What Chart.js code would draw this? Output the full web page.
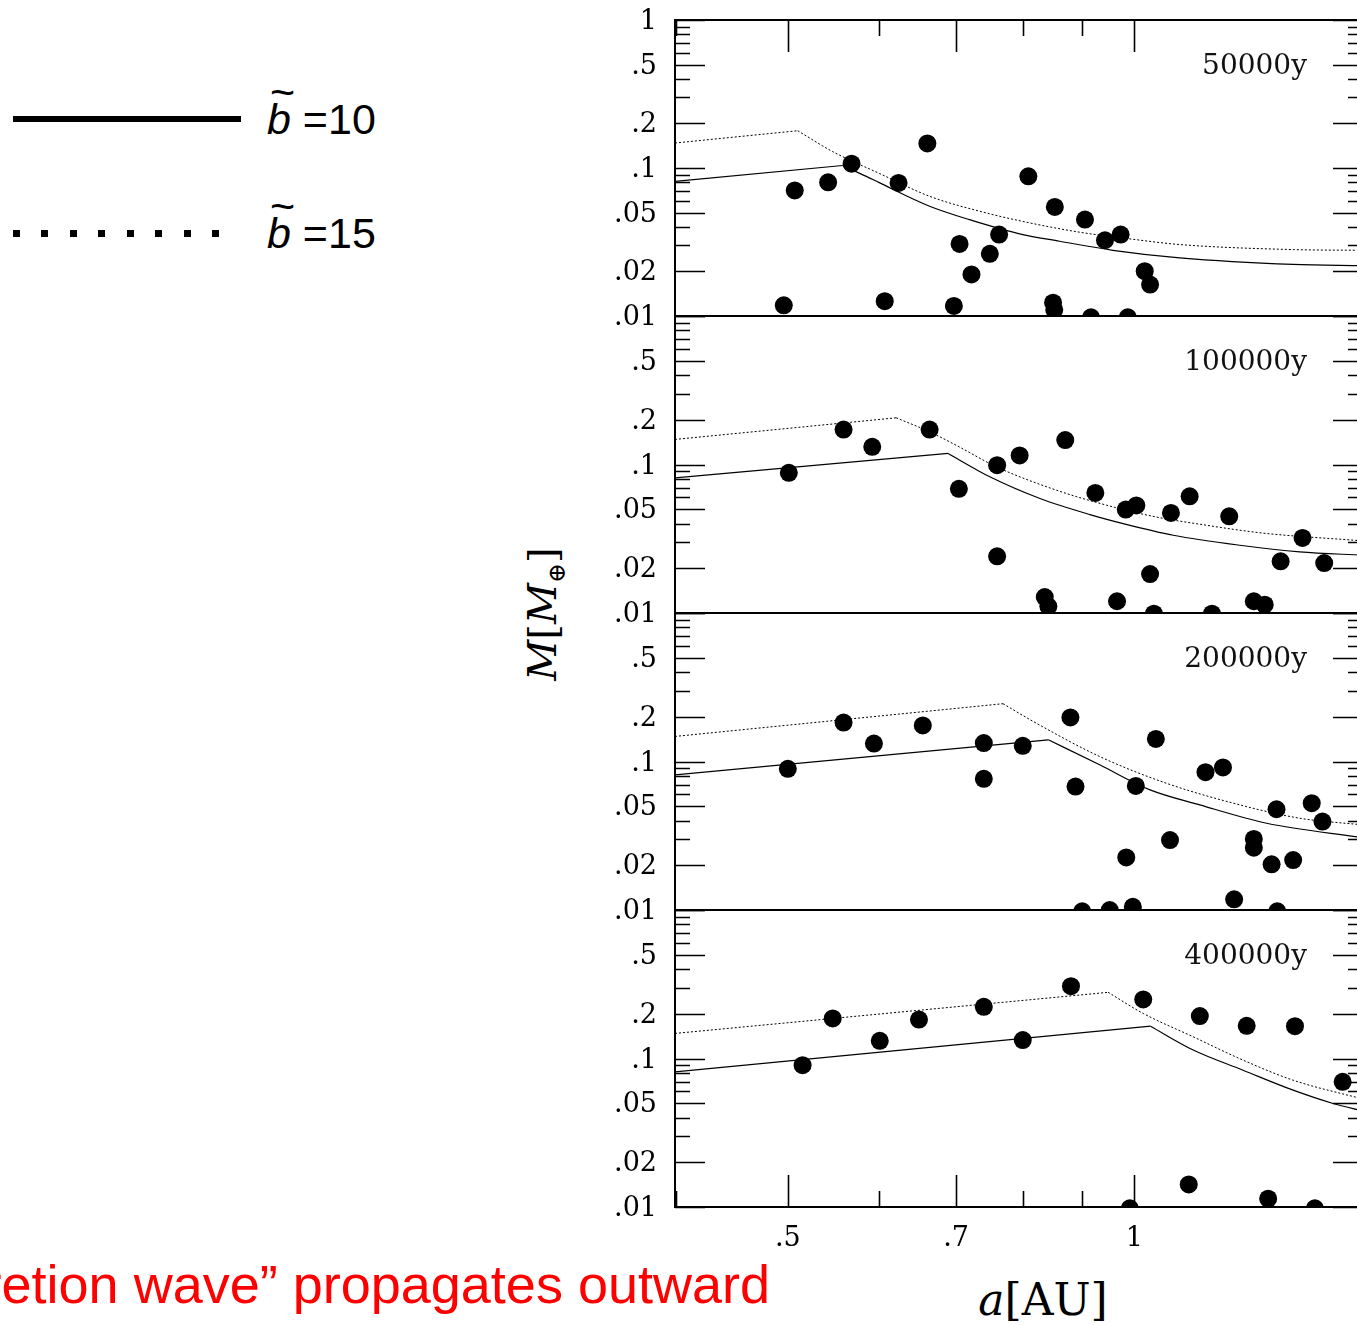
<!DOCTYPE html>
<html>
<head>
<meta charset="utf-8">
<script src="https://cdn.jsdelivr.net/npm/chart.js@4.4.1/dist/chart.umd.min.js"></script>
<style>
    html, body { margin: 0; padding: 0; background: #fff; overflow: hidden; }
    #page { position: relative; width: 1357px; height: 1325px; overflow: hidden; background: #fff; }
    #page canvas { position: absolute; }
    .txt { position: absolute; white-space: nowrap; line-height: 1; color: #000; }
    .sans { font-family: "Liberation Sans", Arial, sans-serif; }
    .serif { font-family: "DejaVu Serif", serif; }
    .bt { position: relative; display: inline-block; }
    .bt .tl { position: absolute; left: 3px; top: -27px; font-style: normal; }
</style>
</head>
<body>
<div id="page">
    <!-- legend -->
    <div style="position:absolute;left:13px;top:116px;width:228px;height:6px;background:#000"></div>
    <div style="position:absolute;left:13px;top:229.5px;width:207px;height:7px;
        background:repeating-linear-gradient(90deg,#000 0 7px,transparent 7px 28.5px)"></div>
    <div class="txt sans" style="left:267px;top:98px;font-size:43px"><span class="bt"><i>b</i><span class="tl">~</span></span> =10</div>
    <div class="txt sans" style="left:267px;top:212px;font-size:43px"><span class="bt"><i>b</i><span class="tl">~</span></span> =15</div>

    <div class="txt sans" style="right:587px;top:1257px;font-size:54px;color:#ff0000">“accretion wave” propagates outward</div>

    <div class="txt serif" style="left:545px;top:614px;font-size:40px;transform:translate(-50%,-50%) rotate(-90deg)"><i>M</i>[<i>M</i><sub style="font-size:0.6em">⊕</sub>]</div>
    <div class="txt serif" style="left:1043px;top:1300px;font-size:44px;transform:translate(-50%,-50%)"><i>a</i>[AU]</div>
</div>
<script>
// ---- axes ----
const X_TICKS = [0.4, 0.5, 0.6, 0.7, 0.8, 0.9, 1];
const X_TICK_LABELS = ['', '.5', '', '.7', '', '', '1'];
const X_MAJOR = [0.5, 0.7, 1];
const Y_TICKS = [0.01, 0.02, 0.03, 0.04, 0.05, 0.06, 0.07, 0.08, 0.09,
                 0.1, 0.2, 0.3, 0.4, 0.5, 0.6, 0.7, 0.8, 0.9, 1];
const Y_TICK_LABELS = ['.01', '.02', '', '', '.05', '', '', '', '',
                       '.1', '.2', '', '', '.5', '', '', '', '', '1'];
const Y_MAJOR = [0.01, 0.02, 0.05, 0.1, 0.2, 0.5, 1];
const PANEL_LABELS = ['50000y', '100000y', '200000y', '400000y'];

// ---- data: [a (AU), M (M_earth)] ----
// curves: first point -> peak is the rising power law, the rest the falling branch
const DOTS_50K = [[0.496,0.0118],[0.507,0.0706],[0.542,0.080],[0.568,0.107],[0.607,0.0126],[0.624,0.0793],
    [0.661,0.1466],[0.697,0.0117],[0.705,0.0307],[0.722,0.0191],[0.749,0.0263],[0.763,0.0355],[0.809,0.0878],
    [0.850,0.0123],[0.852,0.0110],[0.853,0.0546],[0.906,0.0448],[0.917,0.0098],[0.943,0.0325],[0.973,0.0355],
    [0.987,0.0098],[1.021,0.0201],[1.032,0.0163]];
const B10_50K = [[0.399,0.0813],[0.558,0.104],[0.585,0.0878],[0.601,0.0793],[0.664,0.0552],[0.719,0.0448],
    [0.80,0.0355],[0.861,0.032],[0.958,0.0278],[1.095,0.0247],[1.374,0.0223],[1.58,0.0219]];
const B15_50K = [[0.399,0.1475],[0.510,0.1786],[0.547,0.129],[0.601,0.0916],[0.664,0.0644],[0.734,0.051],
    [0.811,0.0426],[0.897,0.0368],[0.991,0.0332],[1.095,0.0304],[1.374,0.0281],[1.58,0.0278]];

const DOTS_100K = [[0.501,0.0879],[0.559,0.172],[0.592,0.1315],[0.664,0.172],[0.704,0.0686],[0.760,0.099],
    [0.760,0.0241],[0.795,0.115],[0.836,0.0128],[0.842,0.0111],[0.871,0.146],[0.925,0.0644],[0.966,0.012],
    [0.983,0.0497],[1.004,0.053],[1.032,0.0183],[1.040,0.0099],[1.076,0.0472],[1.117,0.0611],[1.168,0.0099],
    [1.209,0.0448],[1.270,0.012],[1.298,0.01138],[1.340,0.0223],[1.400,0.032],[1.462,0.0217]];
const B10_100K = [[0.399,0.0813],[0.689,0.1187],[0.749,0.0826],[0.828,0.059],[0.915,0.046],[0.978,0.040],
    [1.081,0.0334],[1.235,0.0286],[1.392,0.0258],[1.58,0.0245]];
const B15_100K = [[0.399,0.1475],[0.621,0.2063],[0.664,0.166],[0.705,0.131],[0.759,0.0964],[0.856,0.0671],
    [0.946,0.0532],[1.045,0.0443],[1.155,0.039],[1.235,0.0361],[1.303,0.0343],[1.58,0.0306]];

const DOTS_200K = [[0.500,0.0893],[0.559,0.183],[0.594,0.132],[0.655,0.175],[0.740,0.133],[0.740,0.0764],
    [0.800,0.1275],[0.880,0.198],[0.889,0.0678],[0.901,0.0098],[0.952,0.0100],[0.984,0.0226],[0.997,0.0105],
    [1.003,0.0685],[1.044,0.142],[1.074,0.0296],[1.153,0.0848],[1.194,0.0912],[1.221,0.0118],[1.270,0.0301],
    [1.270,0.0263],[1.316,0.0203],[1.329,0.0477],[1.331,0.0098],[1.374,0.0217],[1.426,0.0524],[1.457,0.0394]];
const B10_200K = [[0.399,0.0813],[0.842,0.140],[0.933,0.095],[1.032,0.0644],[1.14,0.051],[1.303,0.0384],
    [1.58,0.0307]];
const B15_200K = [[0.399,0.1475],[0.769,0.245],[0.817,0.186],[0.933,0.108],[1.066,0.0714],[1.219,0.0524],
    [1.392,0.0415],[1.58,0.0374]];

const DOTS_400K = [[0.515,0.0902],[0.547,0.186],[0.601,0.1315],[0.650,0.183],[0.740,0.223],[0.800,0.133],
    [0.881,0.307],[0.991,0.0098],[1.018,0.250],[1.115,0.0142],[1.140,0.193],[1.252,0.166],[1.307,0.01138],
    [1.379,0.165],[1.435,0.0098],[1.517,0.0696]];
const B10_400K = [[0.399,0.0813],[1.033,0.165],[1.125,0.114],[1.243,0.0834],[1.374,0.0612],[1.488,0.0498],
    [1.58,0.0443]];
const B15_400K = [[0.399,0.1475],[0.949,0.279],[1.018,0.201],[1.125,0.140],[1.243,0.0975],[1.374,0.0714],
    [1.58,0.0533]];

const PANELS = [
    [DOTS_50K, B10_50K, B15_50K],
    [DOTS_100K, B10_100K, B15_100K],
    [DOTS_200K, B10_200K, B15_200K],
    [DOTS_400K, B10_400K, B15_400K]
];

// panel geometry on the page
const PANEL_TOP = [20, 316, 613, 910];
const PANEL_H = [296, 297, 297, 297];
const CANVAS_LEFT = 600, CANVAS_W = 780, AXIS_W = 75, PAD = 25, XAXIS_H = 75;

const toXY = pts => pts.map(([a, m]) => ({ x: a, y: m }));

// a curve = straight rising part + smooth falling part
const curveSets = (pts, style) => [
    Object.assign({ data: toXY(pts.slice(0, 2)) }, style),
    Object.assign({ data: toXY(pts.slice(1)), cubicInterpolationMode: 'monotone' }, style)
];

// inward ticks, frame and time label
const framePlugin = {
    id: 'frame',
    afterDraw(chart, args, opts) {
        const { ctx, chartArea: a, scales: { x, y } } = chart;
        ctx.save();
        ctx.strokeStyle = '#000';
        ctx.lineWidth = 1.6;
        ctx.beginPath();
        Y_TICKS.forEach(v => {
            const py = Math.round(y.getPixelForValue(v)) + 0.5;
            const len = Y_MAJOR.includes(v) ? 30 : 15;
            ctx.moveTo(a.left, py); ctx.lineTo(a.left + len, py);
            ctx.moveTo(a.right, py); ctx.lineTo(a.right - len, py);
        });
        X_TICKS.forEach(v => {
            const px = Math.round(x.getPixelForValue(v)) + 0.5;
            const len = X_MAJOR.includes(v) ? 32 : 16;
            if (opts.top) { ctx.moveTo(px, a.top); ctx.lineTo(px, a.top + len); }
            if (opts.bottom) { ctx.moveTo(px, a.bottom); ctx.lineTo(px, a.bottom - len); }
        });
        ctx.stroke();
        ctx.lineWidth = 2;
        ctx.strokeRect(a.left, a.top, a.right - a.left, a.bottom - a.top);

        ctx.fillStyle = '#111';
        ctx.font = '28px "DejaVu Serif"';
        ctx.textAlign = 'right';
        ctx.textBaseline = 'alphabetic';
        ctx.fillText(opts.label, a.right - 56, a.top + 54);
        ctx.restore();
    }
};

const page = document.getElementById('page');

PANELS.forEach(([dots, b10, b15], i) => {
    const isBottom = i === PANELS.length - 1;
    const h = PAD + PANEL_H[i] + (isBottom ? XAXIS_H : PAD);
    const cv = document.createElement('canvas');
    cv.width = CANVAS_W; cv.height = h;
    cv.style.left = CANVAS_LEFT + 'px';
    cv.style.top = (PANEL_TOP[i] - PAD) + 'px';
    cv.style.width = CANVAS_W + 'px'; cv.style.height = h + 'px';
    page.appendChild(cv);

    const solid = { showLine: true, borderColor: '#000', borderWidth: 1.2, pointRadius: 0 };
    const dotted = { showLine: true, borderColor: '#000', borderWidth: 1, borderDash: [2, 2], pointRadius: 0 };

    new Chart(cv, {
        type: 'scatter',
        data: {
            datasets: [
                {
                    data: toXY(dots),
                    pointRadius: 9, pointHoverRadius: 9,
                    pointBackgroundColor: '#000', pointBorderWidth: 0
                },
                ...curveSets(b10, solid),
                ...curveSets(b15, dotted)
            ]
        },
        options: {
            responsive: false,
            devicePixelRatio: 1,
            animation: false,
            events: [],
            layout: { padding: { left: 0, right: CANVAS_W - (1363 - CANVAS_LEFT), top: PAD, bottom: isBottom ? 0 : PAD } },
            plugins: {
                legend: { display: false },
                tooltip: { enabled: false },
                frame: { label: PANEL_LABELS[i], top: i === 0, bottom: isBottom }
            },
            scales: {
                x: {
                    type: 'logarithmic', min: 0.399, max: 1.58,
                    display: isBottom,
                    grid: { display: false, drawTicks: false },
                    border: { display: false },
                    afterBuildTicks: s => { s.ticks = X_TICKS.map(v => ({ value: v })); },
                    afterFit: s => {
                        s.height = isBottom ? XAXIS_H : 0;
                        s.paddingLeft = 0; s.paddingRight = 0;
                    },
                    ticks: {
                        autoSkip: false, maxRotation: 0, padding: 16, color: '#000',
                        font: { family: '"DejaVu Serif"', size: 27 },
                        callback: (v, idx) => X_TICK_LABELS[idx]
                    }
                },
                y: {
                    type: 'logarithmic', min: 0.01, max: 1,
                    grid: { display: false, drawTicks: false },
                    border: { display: false },
                    afterBuildTicks: s => { s.ticks = Y_TICKS.map(v => ({ value: v })); },
                    afterFit: s => {
                        s.width = AXIS_W;
                        s.paddingTop = 0; s.paddingBottom = 0;
                    },
                    ticks: {
                        autoSkip: false, padding: 18, labelOffset: 2, color: '#000',
                        font: { family: '"DejaVu Serif"', size: 27 },
                        callback: (v, idx) => (i > 0 && idx === Y_TICKS.length - 1) ? '' : Y_TICK_LABELS[idx]
                    }
                }
            }
        },
        plugins: [framePlugin]
    });
});
</script>
</body>
</html>
